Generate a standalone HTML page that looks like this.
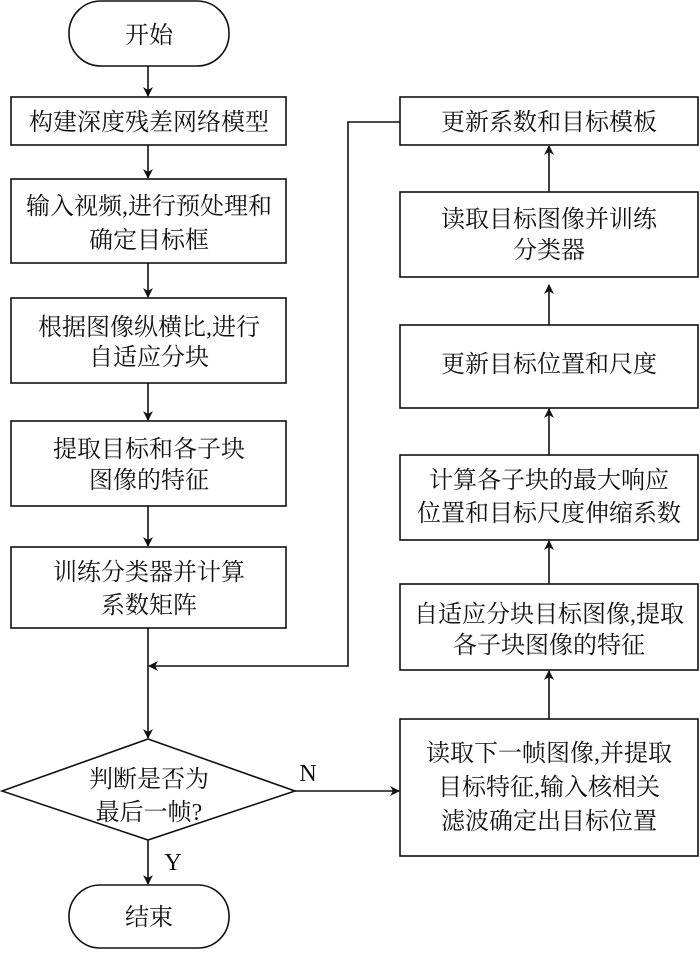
<!DOCTYPE html>
<html><head><meta charset="utf-8"><style>
html,body{margin:0;padding:0;background:#fff;}
svg text{font-family:"Liberation Serif","Noto Serif CJK SC",serif;font-size:24px;fill:#111;}
</style></head><body>
<svg width="700" height="950" viewBox="0 0 700 950" xmlns="http://www.w3.org/2000/svg">
<defs><marker id="a" markerWidth="10" markerHeight="12" refX="9" refY="6" orient="auto" markerUnits="userSpaceOnUse"><path d="M0,1 L10,6 L0,11 L3,6 Z" fill="#111"/></marker></defs>
<g fill="none" stroke="#111" stroke-width="1.6">
<rect x="69" y="1" width="160" height="65" rx="32"/>
<rect x="11" y="97" width="275" height="48"/>
<rect x="11" y="179" width="275" height="84"/>
<rect x="11" y="298" width="275" height="85"/>
<rect x="11" y="421" width="275" height="85"/>
<rect x="11" y="547" width="275" height="81"/>
<path d="M148,739 L295,791 L148,840 L2,791 Z"/>
<rect x="69" y="885" width="160" height="63" rx="31"/>
<rect x="400" y="97" width="298" height="48"/>
<rect x="400" y="192" width="298" height="85"/>
<rect x="400" y="325" width="298" height="83"/>
<rect x="400" y="455" width="298" height="85"/>
<rect x="400" y="584" width="298" height="86"/>
<rect x="400" y="719" width="298" height="137"/>
<g marker-end="url(#a)">
<line x1="148" y1="66" x2="148" y2="96"/>
<line x1="148" y1="145" x2="148" y2="178"/>
<line x1="148" y1="263" x2="148" y2="297"/>
<line x1="148" y1="383" x2="148" y2="420"/>
<line x1="148" y1="506" x2="148" y2="546"/>
<line x1="148" y1="628" x2="148" y2="738"/>
<polyline points="400,122 348,122 348,666 149,666"/>
<line x1="148" y1="840" x2="148" y2="884"/>
<line x1="295" y1="791" x2="399" y2="791"/>
<line x1="549" y1="719" x2="549" y2="671"/>
<line x1="549" y1="584" x2="549" y2="541"/>
<line x1="549" y1="455" x2="549" y2="409"/>
<line x1="549" y1="325" x2="549" y2="285"/>
<line x1="549" y1="192" x2="549" y2="146"/>
</g>
</g>
<g text-anchor="middle">
<text x="149" y="43">开始</text>
<text x="149" y="130">构建深度残差网络模型</text>
<text x="149" y="214">输入视频,进行预处理和</text>
<text x="149" y="248">确定目标框</text>
<text x="149" y="335">根据图像纵横比,进行</text>
<text x="149" y="365">自适应分块</text>
<text x="149" y="457">提取目标和各子块</text>
<text x="149" y="488">图像的特征</text>
<text x="149" y="580">训练分类器并计算</text>
<text x="149" y="613">系数矩阵</text>
<text x="149" y="787">判断是否为</text>
<text x="149" y="820">最后一帧?</text>
<text x="149" y="925">结束</text>
<text x="549" y="130">更新系数和目标模板</text>
<text x="549" y="227">读取目标图像并训练</text>
<text x="549" y="258">分类器</text>
<text x="549" y="372">更新目标位置和尺度</text>
<text x="549" y="488">计算各子块的最大响应</text>
<text x="549" y="521">位置和目标尺度伸缩系数</text>
<text x="549" y="622">自适应分块目标图像,提取</text>
<text x="549" y="653">各子块图像的特征</text>
<text x="549" y="761">读取下一帧图像,并提取</text>
<text x="549" y="795">目标特征,输入核相关</text>
<text x="549" y="829">滤波确定出目标位置</text>
<text x="308" y="781">N</text>
<text x="173" y="870">Y</text>
</g>
</svg>
</body></html>
